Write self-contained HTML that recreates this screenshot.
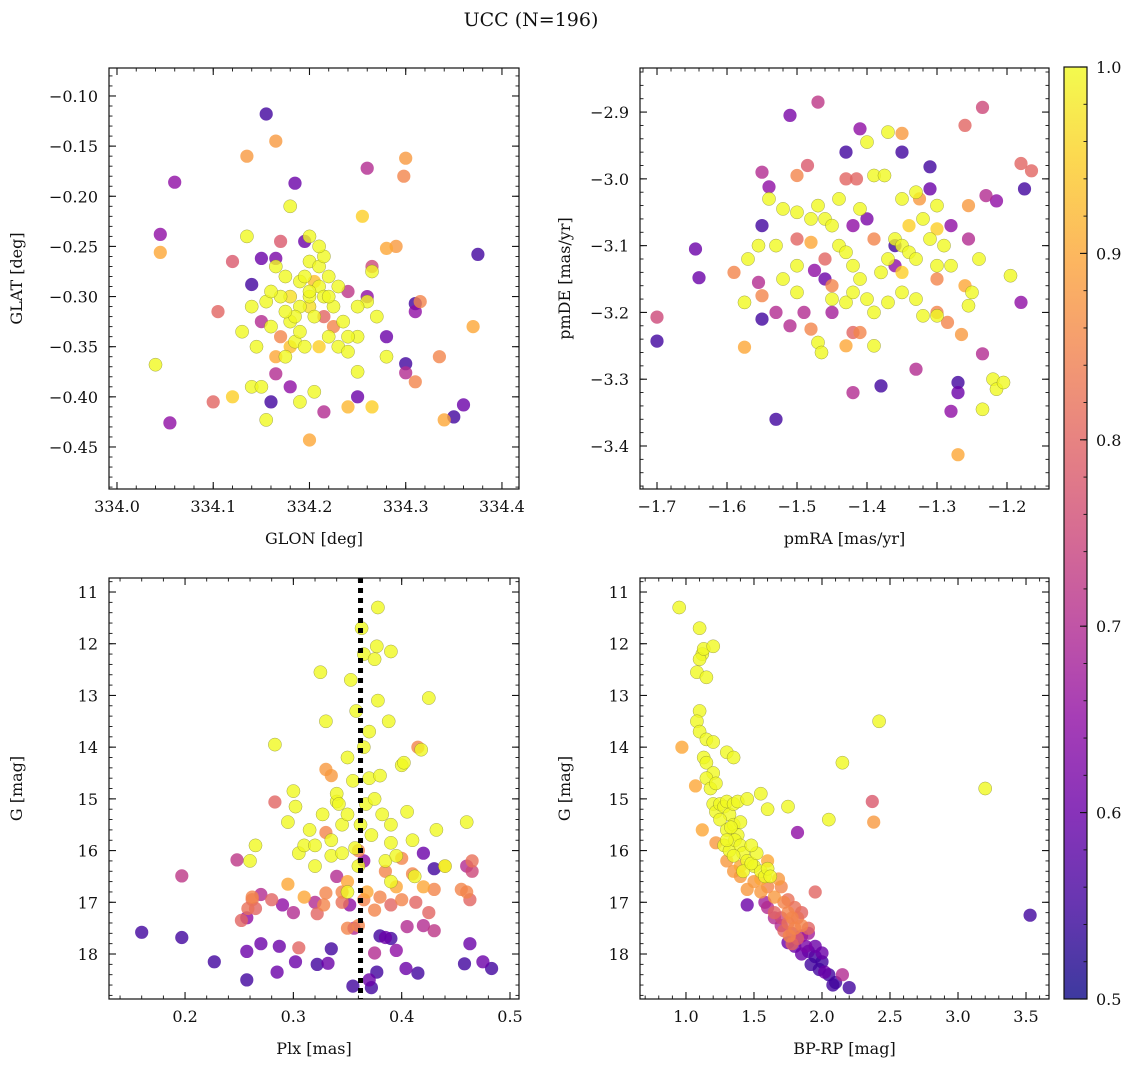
<!DOCTYPE html>
<html><head><meta charset="utf-8">
<style>
body{margin:0;background:#fff;}
svg text{font-family:"DejaVu Serif","Liberation Serif",serif;fill:#111;}
</style></head>
<body>
<svg id="chart" width="1136" height="1067" xmlns="http://www.w3.org/2000/svg">
<defs>
<linearGradient id="plasma" x1="0" y1="1" x2="0" y2="0">
<stop offset="0" stop-color="#0d0887"/><stop offset="0.1" stop-color="#41049d"/><stop offset="0.2" stop-color="#6a00a8"/>
<stop offset="0.3" stop-color="#8f0da4"/><stop offset="0.4" stop-color="#b12a90"/><stop offset="0.5" stop-color="#cc4778"/>
<stop offset="0.6" stop-color="#e16462"/><stop offset="0.7" stop-color="#f2844b"/><stop offset="0.8" stop-color="#fca636"/>
<stop offset="0.9" stop-color="#fcce25"/><stop offset="1" stop-color="#f0f921"/>
</linearGradient>
</defs>
<text x="531" y="26" font-size="19" text-anchor="middle">UCC (N=196)</text>
</svg>
<script>
// Panel 1: GLON, GLAT, prob
const p1 = [[334.155,-0.118,0.55],[334.185,-0.187,0.6],[334.06,-0.186,0.65],[334.045,-0.238,0.65],[334.375,-0.258,0.55],[334.14,-0.288,0.55],[334.15,-0.262,0.6],[334.195,-0.245,0.6],[334.165,-0.262,0.62],[334.26,-0.3,0.65],[334.28,-0.34,0.6],[334.30,-0.367,0.55],[334.31,-0.315,0.65],[334.31,-0.307,0.55],[334.35,-0.42,0.55],[334.36,-0.408,0.6],[334.055,-0.426,0.65],[334.16,-0.405,0.55],[334.18,-0.39,0.65],[334.165,-0.377,0.7],[334.25,-0.4,0.6],[334.215,-0.415,0.7],[334.3,-0.376,0.7],[334.15,-0.325,0.7],[334.24,-0.295,0.72],[334.26,-0.172,0.7],
[334.165,-0.145,0.88],[334.135,-0.16,0.88],[334.30,-0.162,0.88],[334.298,-0.18,0.85],[334.045,-0.256,0.9],[334.255,-0.22,0.95],[334.28,-0.252,0.9],[334.29,-0.25,0.88],[334.315,-0.305,0.85],[334.37,-0.33,0.9],[334.335,-0.36,0.85],[334.31,-0.385,0.85],[334.2,-0.443,0.9],[334.24,-0.41,0.92],[334.265,-0.41,0.95],[334.34,-0.423,0.9],[334.12,-0.4,0.95],[334.1,-0.405,0.8],[334.105,-0.315,0.8],[334.12,-0.265,0.78],[334.265,-0.27,0.75],[334.215,-0.32,0.8],[334.225,-0.33,0.85],[334.17,-0.245,0.78],
[334.04,-0.368,1],[334.135,-0.24,1],[334.18,-0.21,1],[334.2,-0.24,1],[334.14,-0.31,1],[334.13,-0.335,1],[334.14,-0.39,1],[334.15,-0.39,1],[334.155,-0.423,1],[334.165,-0.27,1],[334.17,-0.3,1],[334.175,-0.36,1],[334.18,-0.325,1],[334.185,-0.345,1],[334.19,-0.285,1],[334.19,-0.31,1],[334.195,-0.28,1],[334.2,-0.265,1],[334.2,-0.3,1],[334.205,-0.32,1],[334.21,-0.27,1],[334.21,-0.29,1],[334.215,-0.3,1],[334.215,-0.26,1],[334.22,-0.28,1],[334.22,-0.34,1],[334.225,-0.31,1],[334.23,-0.35,1],[334.24,-0.355,1],[334.25,-0.34,1],[334.25,-0.375,1],[334.26,-0.305,1],[334.265,-0.275,1],[334.27,-0.32,1],[334.155,-0.305,1],[334.16,-0.33,1],[334.175,-0.28,1],[334.185,-0.32,1],[334.195,-0.35,1],[334.205,-0.395,1],[334.19,-0.405,1],[334.235,-0.325,1],[334.21,-0.25,1],[334.2,-0.295,1],[334.175,-0.315,1],[334.19,-0.335,1],[334.22,-0.3,1],[334.23,-0.29,1],[334.16,-0.295,1],[334.145,-0.35,1],[334.24,-0.34,1],[334.28,-0.36,1],[334.25,-0.31,1],[334.2,-0.31,0.97],[334.18,-0.3,0.97],[334.21,-0.35,0.95],[334.18,-0.35,0.93],[334.165,-0.36,0.9],[334.205,-0.285,0.93],[334.17,-0.34,0.85]];
// Panel 2: pmRA, pmDE, prob
const p2 = [[-1.51,-2.905,0.62],[-1.47,-2.885,0.72],[-1.41,-2.925,0.65],[-1.35,-2.96,0.55],[-1.31,-2.982,0.55],[-1.43,-2.96,0.55],[-1.55,-2.99,0.7],[-1.54,-3.012,0.65],[-1.55,-3.07,0.55],[-1.645,-3.105,0.6],[-1.64,-3.148,0.6],[-1.7,-3.207,0.75],[-1.7,-3.243,0.55],[-1.555,-3.155,0.7],[-1.55,-3.21,0.55],[-1.53,-3.2,0.7],[-1.51,-3.22,0.7],[-1.53,-3.36,0.55],[-1.475,-3.137,0.65],[-1.46,-3.15,0.6],[-1.42,-3.32,0.7],[-1.38,-3.31,0.55],[-1.36,-3.1,0.55],[-1.36,-3.13,0.65],[-1.33,-3.285,0.7],[-1.31,-3.015,0.6],[-1.28,-3.07,0.65],[-1.27,-3.305,0.55],[-1.27,-3.32,0.6],[-1.28,-3.348,0.65],[-1.255,-3.09,0.7],[-1.235,-2.893,0.75],[-1.23,-3.025,0.7],[-1.215,-3.033,0.65],[-1.175,-3.015,0.55],[-1.18,-3.185,0.65],[-1.235,-3.262,0.7],[-1.165,-2.988,0.8],[-1.18,-2.977,0.8],[-1.42,-3.07,0.65],[-1.4,-3.06,0.62],[-1.45,-3.2,0.68],[-1.49,-3.2,0.7],
[-1.35,-2.932,0.88],[-1.325,-3.03,0.88],[-1.26,-2.92,0.8],[-1.255,-3.04,0.88],[-1.43,-3.0,0.8],[-1.415,-3.0,0.8],[-1.42,-3.23,0.8],[-1.41,-3.23,0.85],[-1.43,-3.25,0.9],[-1.27,-3.413,0.9],[-1.265,-3.233,0.88],[-1.48,-3.225,0.85],[-1.5,-3.09,0.8],[-1.48,-3.095,0.9],[-1.59,-3.14,0.85],[-1.575,-3.252,0.9],[-1.5,-2.995,0.85],[-1.485,-2.98,0.78],[-1.46,-3.12,0.8],[-1.39,-3.09,0.85],[-1.3,-3.15,0.85],[-1.3,-3.2,0.85],[-1.285,-3.215,0.85],[-1.26,-3.16,0.9],[-1.55,-3.175,0.85],[-1.45,-3.16,0.85],
[-1.4,-2.945,1],[-1.37,-2.93,1],[-1.39,-2.995,1],[-1.375,-2.995,1],[-1.44,-3.03,1],[-1.47,-3.04,1],[-1.5,-3.05,1],[-1.52,-3.045,1],[-1.54,-3.03,1],[-1.555,-3.1,1],[-1.57,-3.12,1],[-1.575,-3.185,1],[-1.53,-3.1,1],[-1.52,-3.15,1],[-1.5,-3.13,1],[-1.48,-3.06,1],[-1.46,-3.06,1],[-1.45,-3.07,1],[-1.44,-3.1,1],[-1.43,-3.11,1],[-1.42,-3.13,1],[-1.41,-3.15,1],[-1.4,-3.18,1],[-1.39,-3.2,1],[-1.38,-3.14,1],[-1.37,-3.12,1],[-1.36,-3.09,1],[-1.35,-3.1,1],[-1.34,-3.11,1],[-1.33,-3.12,1],[-1.32,-3.06,1],[-1.31,-3.09,1],[-1.3,-3.04,1],[-1.29,-3.1,1],[-1.28,-3.13,1],[-1.3,-3.205,1],[-1.32,-3.205,1],[-1.33,-3.18,1],[-1.35,-3.17,1],[-1.37,-3.185,1],[-1.39,-3.25,1],[-1.43,-3.185,1],[-1.45,-3.18,1],[-1.47,-3.245,1],[-1.465,-3.26,1],[-1.5,-3.17,1],[-1.25,-3.17,1],[-1.255,-3.19,1],[-1.22,-3.3,1],[-1.215,-3.315,1],[-1.205,-3.305,1],[-1.235,-3.345,1],[-1.195,-3.145,1],[-1.24,-3.12,1],[-1.33,-3.02,1],[-1.35,-3.03,1],[-1.41,-3.045,1],[-1.3,-3.13,1],[-1.42,-3.17,1],[-1.35,-3.14,0.95],[-1.3,-3.075,0.95],[-1.34,-3.07,0.95]];
// Panel 3: Plx, G, prob
const p3 = [[0.16,17.58,0.55],[0.197,17.68,0.55],[0.227,18.15,0.55],[0.257,18.5,0.55],[0.257,17.95,0.6],[0.27,17.8,0.6],[0.285,18.35,0.6],[0.287,17.85,0.6],[0.302,18.15,0.6],[0.322,18.2,0.55],[0.335,17.9,0.55],[0.332,18.18,0.6],[0.355,18.62,0.55],[0.37,18.5,0.6],[0.377,18.35,0.55],[0.372,18.65,0.55],[0.385,17.68,0.6],[0.38,17.65,0.55],[0.39,17.7,0.55],[0.404,18.28,0.6],[0.415,18.37,0.55],[0.458,18.19,0.55],[0.463,17.8,0.6],[0.475,18.15,0.6],[0.483,18.28,0.55],[0.43,16.35,0.55],[0.42,16.05,0.6],[0.395,17.93,0.65],[0.405,17.47,0.7],[0.42,17.45,0.7],[0.356,17.5,0.7],[0.352,17.05,0.65],[0.3,17.2,0.7],[0.29,17.05,0.65],[0.257,17.3,0.65],[0.27,16.85,0.7],[0.32,17.0,0.7],[0.34,16.5,0.7],[0.365,16.2,0.65],[0.46,16.3,0.7],[0.465,16.4,0.75],[0.197,16.49,0.72],[0.248,16.18,0.72],[0.43,17.55,0.72],[0.375,17.98,0.7],
[0.252,17.35,0.8],[0.258,17.12,0.82],[0.262,16.95,0.82],[0.265,17.12,0.8],[0.28,16.95,0.8],[0.262,16.9,0.85],[0.283,15.06,0.8],[0.295,16.65,0.9],[0.305,17.88,0.8],[0.322,17.22,0.8],[0.328,17.05,0.85],[0.33,16.82,0.85],[0.33,14.43,0.88],[0.335,14.55,0.88],[0.345,17.0,0.82],[0.345,16.8,0.85],[0.35,17.5,0.85],[0.36,17.45,0.85],[0.365,16.95,0.85],[0.368,16.8,0.9],[0.375,17.15,0.85],[0.38,16.9,0.85],[0.385,16.4,0.85],[0.39,17.05,0.8],[0.395,16.7,0.9],[0.4,16.15,0.85],[0.41,16.45,0.85],[0.413,17.0,0.8],[0.415,14.0,0.85],[0.42,16.7,0.9],[0.425,17.2,0.8],[0.43,16.75,0.85],[0.44,16.3,0.9],[0.455,16.75,0.85],[0.46,16.8,0.85],[0.463,16.95,0.8],[0.465,16.2,0.82],[0.4,16.95,0.85],[0.36,16.0,0.85],[0.31,16.9,0.9],[0.33,15.65,0.85],[0.35,16.6,0.9],
[0.26,16.2,1],[0.265,15.9,1],[0.283,13.95,1],[0.295,15.45,1],[0.3,14.85,1],[0.302,15.15,1],[0.305,16.05,1],[0.31,15.9,1],[0.315,15.6,1],[0.32,16.3,1],[0.325,12.55,1],[0.327,15.3,1],[0.33,13.5,1],[0.335,15.8,1],[0.335,16.1,1],[0.34,15.05,1],[0.34,14.9,1],[0.345,15.5,1],[0.345,16.05,1],[0.35,14.2,1],[0.35,15.3,1],[0.353,12.7,1],[0.355,14.65,1],[0.357,15.95,1],[0.36,16.3,1],[0.363,11.7,1],[0.365,12.2,1],[0.365,14.0,1],[0.367,15.1,1],[0.37,14.6,1],[0.372,15.7,1],[0.375,12.3,1],[0.377,12.05,1],[0.378,11.3,1],[0.378,13.1,1],[0.38,14.55,1],[0.382,15.3,1],[0.385,16.2,1],[0.388,13.5,1],[0.39,12.15,1],[0.39,15.85,1],[0.395,16.1,1],[0.4,14.35,1],[0.402,14.3,1],[0.405,15.25,1],[0.41,15.8,1],[0.412,16.5,1],[0.418,14.05,1],[0.425,13.05,1],[0.432,15.6,1],[0.44,16.3,1],[0.46,15.45,1],[0.358,13.3,1],[0.37,13.7,1],[0.39,16.6,1],[0.342,15.1,1],[0.32,15.9,1],[0.39,15.5,1],[0.35,16.8,1],[0.362,15.5,1],[0.375,15.0,1]];
// Panel 4: BP-RP, G, prob
const p4 = [[0.95,11.3,1],[1.1,11.7,1],[1.12,12.2,1],[1.1,12.3,1],[1.13,12.1,1],[1.2,12.05,1],[1.08,12.55,1],[1.15,12.65,1],[1.1,13.3,1],[1.08,13.5,1],[1.1,13.7,1],[1.15,13.85,1],[1.2,13.9,1],[1.13,14.2,1],[1.15,14.3,1],[1.2,14.5,1],[1.15,14.6,1],[1.18,14.8,1],[1.22,14.7,1],[1.3,14.1,1],[1.35,14.2,1],[1.2,15.1,1],[1.22,15.25,1],[1.25,15.1,1],[1.28,15.15,1],[1.3,15.05,1],[1.32,15.3,1],[1.35,15.1,1],[1.38,15.05,1],[1.25,15.4,1],[1.3,15.6,1],[1.35,15.5,1],[1.38,15.7,1],[1.4,15.45,1],[1.45,15.0,1],[1.55,14.9,1],[1.6,15.2,1],[1.28,15.9,1],[1.32,16.0,1],[1.36,15.8,1],[1.4,15.9,1],[1.42,16.05,1],[1.45,16.2,1],[1.5,16.3,1],[1.55,16.4,1],[1.58,16.5,1],[1.6,16.35,1],[1.35,16.1,1],[1.42,16.4,1],[1.3,15.8,1],[1.48,16.25,1],[1.52,16.05,1],[1.75,15.15,1],[2.15,14.3,1],[2.42,13.5,1],[2.05,15.4,1],[3.2,14.8,1],[1.33,15.55,1],[1.48,15.9,1],[1.62,16.5,1],
[0.97,14.0,0.9],[1.07,14.75,0.9],[1.12,15.6,0.9],[1.22,15.85,0.88],[1.3,16.2,0.88],[1.35,16.4,0.88],[1.4,16.5,0.88],[1.45,16.75,0.88],[1.5,16.6,0.88],[1.55,16.8,0.88],[1.6,16.7,0.85],[1.65,16.9,0.88],[1.7,16.7,0.85],[1.72,17.0,0.85],[1.75,16.95,0.82],[1.75,17.2,0.85],[1.78,17.3,0.85],[1.8,17.1,0.82],[1.75,17.4,0.82],[1.8,17.5,0.85],[1.82,17.3,0.82],[1.85,17.2,0.8],[1.85,17.45,0.85],[1.72,17.55,0.8],[1.76,17.65,0.85],[1.82,17.7,0.78],[1.9,17.5,0.8],[2.38,15.45,0.88],[2.37,15.05,0.78],[1.95,16.8,0.8],[1.6,16.2,0.9],[1.68,16.55,0.88],[1.4,16.3,0.9],[1.55,16.55,0.9],[1.78,17.8,0.8],[1.65,17.2,0.8],
[1.82,15.65,0.65],[1.45,17.05,0.6],[1.58,17.0,0.68],[1.65,17.3,0.7],[1.7,17.45,0.7],[1.75,17.78,0.6],[1.8,17.85,0.6],[1.85,17.65,0.65],[1.88,17.85,0.62],[1.9,17.95,0.58],[1.85,18.0,0.6],[1.95,17.85,0.6],[1.95,18.05,0.55],[1.92,18.2,0.55],[2.0,18.15,0.55],[2.0,17.98,0.6],[2.05,18.4,0.55],[2.02,18.35,0.6],[2.1,18.55,0.55],[2.15,18.4,0.7],[2.2,18.65,0.55],[1.98,18.3,0.55],[1.9,17.6,0.68],[1.78,17.6,0.72],[3.53,17.25,0.55],[2.08,18.6,0.55],[1.7,17.3,0.75],[1.6,17.1,0.7]];
const plxMedian = [0.362];
const cbTicks = [0.5,0.6,0.7,0.8,0.9,1.0];

const NS="http://www.w3.org/2000/svg";
const svg=document.getElementById('chart');
function mk(tag,attrs,parent){const e=document.createElementNS(NS,tag);for(const k in attrs)e.setAttribute(k,attrs[k]);(parent||svg).appendChild(e);return e;}
const stops=[[13,8,135],[65,4,157],[106,0,168],[143,13,164],[177,42,144],[204,71,120],[225,100,98],[242,132,75],[252,166,54],[252,206,37],[240,249,33]];
function plasma(v){let t=Math.max(0,Math.min(1,(v-0.5)/0.5))*10;const i=Math.min(9,Math.floor(t)),f=t-i;const a=stops[i],b=stops[i+1];return 'rgb('+a.map((c,k)=>Math.round(c+(b[k]-c)*f)).join(',')+')';}

const FS=16;
const panels=[
 {name:'glon-glat',data:p1,L:109,T:68,R:519,B:489,x0:333.9917,x1:334.4177,y0:-0.4919,y1:-0.0721,inv:false,
  xt:[334.0,334.1,334.2,334.3,334.4],xf:v=>v.toFixed(1),xm:0.02,yt:[-0.10,-0.15,-0.20,-0.25,-0.30,-0.35,-0.40,-0.45],yf:v=>'\u2212'+Math.abs(v).toFixed(2),ym:0.01,xl:'GLON [deg]',yl:'GLAT [deg]'},
 {name:'pmra-pmde',data:p2,L:640,T:68,R:1049,B:489,x0:-1.7243,x1:-1.14,y0:-3.4644,y1:-2.834,inv:false,
  xt:[-1.7,-1.6,-1.5,-1.4,-1.3,-1.2],xf:v=>'\u2212'+Math.abs(v).toFixed(1),xm:0.02,yt:[-2.9,-3.0,-3.1,-3.2,-3.3,-3.4],yf:v=>'\u2212'+Math.abs(v).toFixed(1),ym:0.02,xl:'pmRA [mas/yr]',yl:'pmDE [mas/yr]'},
 {name:'plx-g',data:p3,L:109,T:578,R:519,B:999,x0:0.1298,x1:0.5083,y0:10.729,y1:18.87,inv:true,
  xt:[0.2,0.3,0.4,0.5],xf:v=>v.toFixed(1),xm:0.02,yt:[11,12,13,14,15,16,17,18],yf:v=>String(v),ym:0.2,xl:'Plx [mas]',yl:'G [mag]'},
 {name:'bprp-g',data:p4,L:640,T:578,R:1049,B:999,x0:0.662,x1:3.669,y0:10.729,y1:18.87,inv:true,
  xt:[1.0,1.5,2.0,2.5,3.0,3.5],xf:v=>v.toFixed(1),xm:0.1,yt:[11,12,13,14,15,16,17,18],yf:v=>String(v),ym:0.2,xl:'BP-RP [mag]',yl:'G [mag]'}
];
panels.forEach((p,pi)=>{
  const sx=v=>p.L+(v-p.x0)/(p.x1-p.x0)*(p.R-p.L);
  const sy=p.inv?(v=>p.T+(v-p.y0)/(p.y1-p.y0)*(p.B-p.T)):(v=>p.B-(v-p.y0)/(p.y1-p.y0)*(p.B-p.T));
  const g=mk('g',{});
  
  
  const clipId='clip'+pi;
  const cp=mk('clipPath',{id:clipId},g);mk('rect',{x:p.L,y:p.T,width:p.R-p.L,height:p.B-p.T},cp);
  const pts=mk('g',{'clip-path':'url(#'+clipId+')'},g);
  
  
  const sorted=p.data.slice().sort((a,b)=>a[2]-b[2]);
  sorted.forEach(d=>{
    const c=mk('circle',{cx:sx(d[0]).toFixed(1),cy:sy(d[1]).toFixed(1),r:6.6,fill:plasma(d[2]),'fill-opacity':0.8,stroke:d[2]>0.95?'#6a6a30':'none','stroke-width':0.5,'stroke-opacity':0.6},pts);
    
    
  });
  if(pi===2){
    const ln=mk('line',{x1:sx(plxMedian[0]),x2:sx(plxMedian[0]),y1:p.T,y2:p.B,stroke:'#000','stroke-width':5,'stroke-dasharray':'5 5'},g);
    
    
  }
  const fr=mk('rect',{x:p.L,y:p.T,width:p.R-p.L,height:p.B-p.T,fill:'none',stroke:'#111','stroke-width':1.2},g);
  
  
  for(let v=Math.ceil(p.x0/p.xm)*p.xm;v<=p.x1;v+=p.xm){const x=sx(v);mk('line',{x1:x,x2:x,y1:p.B,y2:p.B-3.5,stroke:'#111','stroke-width':0.9},g);mk('line',{x1:x,x2:x,y1:p.T,y2:p.T+3.5,stroke:'#111','stroke-width':0.9},g);}
  for(let v=Math.ceil(p.y0/p.ym)*p.ym;v<=p.y1;v+=p.ym){const y=sy(v);mk('line',{x1:p.L,x2:p.L+3.5,y1:y,y2:y,stroke:'#111','stroke-width':0.9},g);mk('line',{x1:p.R,x2:p.R-3.5,y1:y,y2:y,stroke:'#111','stroke-width':0.9},g);}
  p.xt.forEach(v=>{const x=sx(v);mk('line',{x1:x,x2:x,y1:p.B,y2:p.B-7,stroke:'#111','stroke-width':1.1},g);mk('line',{x1:x,x2:x,y1:p.T,y2:p.T+7,stroke:'#111','stroke-width':1.1},g);
    const t=mk('text',{x:x,y:p.B+23,'font-size':FS,'text-anchor':'middle'},g);t.textContent=p.xf(v);
    
    });
  p.yt.forEach(v=>{const y=sy(v);mk('line',{x1:p.L,x2:p.L+7,y1:y,y2:y,stroke:'#111','stroke-width':1.1},g);mk('line',{x1:p.R,x2:p.R-7,y1:y,y2:y,stroke:'#111','stroke-width':1.1},g);
    const t=mk('text',{x:p.L-11,y:y+6,'font-size':FS,'text-anchor':'end'},g);t.textContent=p.yf(v);
    
    });
  const xl=mk('text',{x:(p.L+p.R)/2,y:p.B+55,'font-size':FS,'text-anchor':'middle'},g);xl.textContent=p.xl;
  
  
  const yx=(pi%2===0)?22:570;
  const yl=mk('text',{x:yx,y:(p.T+p.B)/2,'font-size':FS,'text-anchor':'middle',transform:'rotate(-90 '+yx+' '+(p.T+p.B)/2+')'},g);yl.textContent=p.yl;
  
  
});
const cb=mk('g',{});


const cT=67,cB=999,cL=1064,cR=1087;
mk('rect',{x:cL,y:cT,width:cR-cL,height:cB-cT,fill:'url(#plasma)','fill-opacity':0.8},cb);
mk('rect',{x:cL,y:cT,width:cR-cL,height:cB-cT,fill:'none',stroke:'#111','stroke-width':1.2},cb);
const cy=v=>cB-(v-0.5)/0.5*(cB-cT);
for(let v=0.5;v<=1.0001;v+=0.02){mk('line',{x1:cR,x2:cR-3.5,y1:cy(v),y2:cy(v),stroke:'#111','stroke-width':0.9},cb);}
cbTicks.forEach(v=>{mk('line',{x1:cR,x2:cR-7,y1:cy(v),y2:cy(v),stroke:'#111','stroke-width':1.1},cb);
  const t=mk('text',{x:cR+9,y:cy(v)+6,'font-size':FS},cb);t.textContent=v.toFixed(1);
  
  });
</script>
</body></html>
